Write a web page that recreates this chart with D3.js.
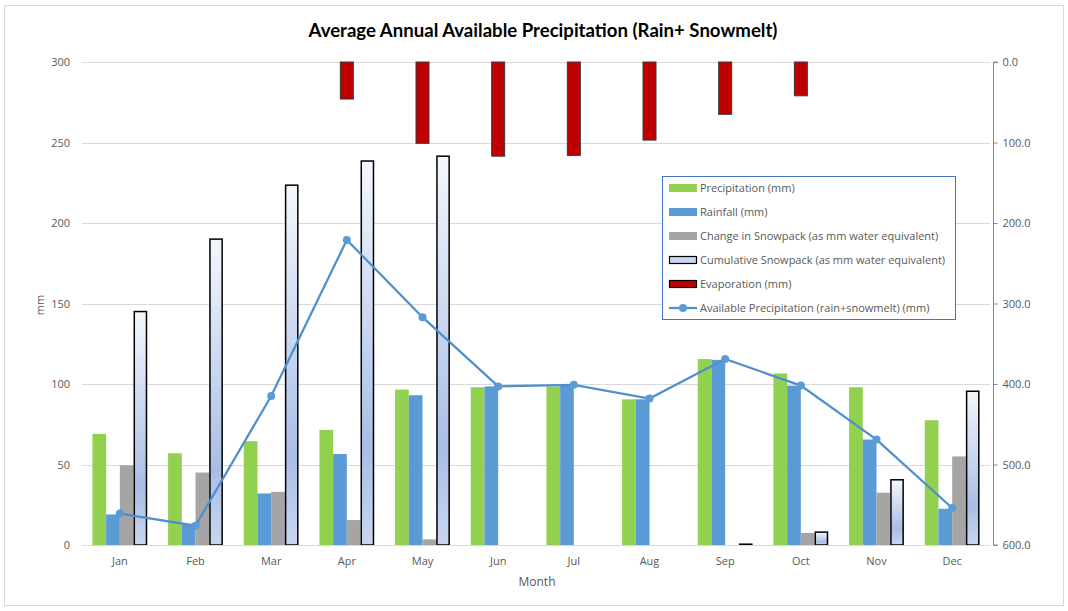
<!DOCTYPE html>
<html><head><meta charset="utf-8">
<script src="https://cdn.jsdelivr.net/npm/d3@7"></script>
<style>body{margin:0;background:#fff}svg{display:block}text{font-family:"Open Sans",Lato,sans-serif}</style>
</head><body><svg id="c" width="1068" height="611"></svg>
<script>
const months = ["Jan","Feb","Mar","Apr","May","Jun","Jul","Aug","Sep","Oct","Nov","Dec"];
const precipitation = [69,57,64.5,71.5,96.5,98,98.5,90.5,115.5,106.5,98,77.5];
const rainfall = [19,12.5,32,56.5,93,98.5,99.5,90.5,115,99,65.5,22.5];
const snowChange = [49.5,45,33,15.5,3.5,0,0,0,0,7.5,32.5,55];
const cumSnow = [145,190,223.5,238.5,241.5,0,0,0,0.5,8,40.5,95.5];
const evaporation = [null,null,null,46,101,117,116,97,65,42,null,null];
const available = [19.5,12,92.5,189.5,141.5,98.5,99.5,91,115.5,99,65.5,23];
const leftTicks = [0,50,100,150,200,250,300];
const rightTicks = [0,100,200,300,400,500,600];

const svg = d3.select("#c");
const L=82, R=990, T=62, B=545;
const x = d3.scaleBand().domain(months).range([L,R]);
const y = d3.scaleLinear().domain([0,300]).range([B,T]);
const y2 = d3.scaleLinear().domain([0,600]).range([T,B]);
const series = ["p","r","s","c"];
const xi = d3.scaleBand().domain(series).range([-27.4,27.4]);
const cx = m => x(m)+x.bandwidth()/2;

// chart border
svg.append("rect").attr("x",4.5).attr("y",5.5).attr("width",1059).attr("height",600).attr("fill","none").attr("stroke","#d9d9d9");

const defs = svg.append("defs");
const g = defs.append("linearGradient").attr("id","snow").attr("x1",0).attr("y1",0).attr("x2",0).attr("y2",1);
g.append("stop").attr("offset","0%").attr("stop-color","#f4f7fd");
g.append("stop").attr("offset","75%").attr("stop-color","#a9bee6");
g.append("stop").attr("offset","100%").attr("stop-color","#c9d6ef");

// gridlines
svg.append("g").selectAll("line").data(leftTicks).join("line")
  .attr("x1",L).attr("x2",R).attr("y1",d=>Math.round(y(d))+0.5).attr("y2",d=>Math.round(y(d))+0.5)
  .attr("stroke","#d9d9d9").attr("stroke-width",1);

// left tick labels
svg.append("g").selectAll("text").data(leftTicks).join("text")
  .attr("x",70).attr("y",d=>y(d)+4).attr("text-anchor","end").attr("font-size",11).attr("fill","#595959").text(d=>d);

// right axis
const ra = svg.append("g").attr("transform",`translate(${993.5},0)`)
  .call(d3.axisRight(y2).tickValues(rightTicks).tickSize(4).tickFormat(d3.format(".1f")));
ra.select(".domain").attr("stroke","#868686").attr("d",`M4,${T}H0V${B}H4`);
ra.selectAll(".tick line").attr("stroke","#868686");
ra.selectAll(".tick text").attr("font-size",11).attr("fill","#595959").attr("x",9).style("font-family",'"Open Sans",Lato,sans-serif');

// month labels
svg.append("g").selectAll("text").data(months).join("text")
  .attr("x",d=>cx(d)).attr("y",565).attr("text-anchor","middle").attr("font-size",11).attr("fill","#595959").text(d=>d);

const bw = xi.bandwidth();
function bars(data, key, fill, stroke, sw){
  svg.append("g").selectAll("rect").data(months).join("rect")
    .attr("x",(m)=>cx(m)+xi(key))
    .attr("width",bw)
    .attr("y",(m,i)=>y(data[i]))
    .attr("height",(m,i)=>B-y(data[i]))
    .attr("fill",fill).attr("stroke",stroke||"none").attr("stroke-width",sw||0);
}
bars(precipitation,"p","#92d050");
bars(rainfall,"r","#5b9bd5");
bars(snowChange,"s","#a5a5a5");
svg.append("g").selectAll("rect").data(months.map((m,i)=>({m,v:cumSnow[i]})).filter(d=>d.v>0)).join("rect")
  .attr("x",d=>cx(d.m)+xi("c")+0.75).attr("width",bw-1.5)
  .attr("y",d=>y(d.v)).attr("height",d=>B-y(d.v))
  .attr("fill","url(#snow)").attr("stroke","#000").attr("stroke-width",1.5);

// evaporation
svg.append("g").selectAll("rect").data(months.map((m,i)=>({m,v:evaporation[i]})).filter(d=>d.v!=null)).join("rect")
  .attr("x",d=>cx(d.m)-6.5).attr("width",13)
  .attr("y",y2(0)).attr("height",d=>y2(d.v)-y2(0))
  .attr("fill","#c00000").attr("stroke","#3a3a3a").attr("stroke-width",1);

// bottom axis line
svg.append("line").attr("x1",L).attr("x2",R).attr("y1",B+0.5).attr("y2",B+0.5).attr("stroke","#d9d9d9");

// line
const line = d3.line().x((d,i)=>cx(months[i])).y(d=>y(d));
svg.append("path").datum(available).attr("d",line).attr("fill","none").attr("stroke","#4e8fcd").attr("stroke-width",2.25);
svg.append("g").selectAll("circle").data(available).join("circle")
  .attr("cx",(d,i)=>cx(months[i])).attr("cy",d=>y(d)).attr("r",4).attr("fill","#5b9bd5");

// title and axis titles
svg.append("text").attr("x",543).attr("y",37).attr("text-anchor","middle").attr("font-size",18.6).attr("font-weight","bold").attr("fill","#000")
  .style("font-family","Lato,sans-serif").text("Average Annual Available Precipitation (Rain+ Snowmelt)");
svg.append("text").attr("transform","translate(44,305) rotate(-90)").attr("text-anchor","middle").attr("font-size",11).attr("fill","#595959").text("mm");
svg.append("text").attr("x",537).attr("y",586).attr("text-anchor","middle").attr("font-size",12).attr("fill","#595959").text("Month");

// legend
const lg = svg.append("g");
lg.append("rect").attr("x",662.5).attr("y",176.5).attr("width",293).attr("height",143).attr("fill","#fff").attr("stroke","#4472c4").attr("stroke-width",1);
const legendItems = [
  {t:"Precipitation (mm)",type:"bar",fill:"#92d050"},
  {t:"Rainfall (mm)",type:"bar",fill:"#5b9bd5"},
  {t:"Change in Snowpack (as mm water equivalent)",type:"bar",fill:"#a5a5a5"},
  {t:"Cumulative Snowpack (as mm water equivalent)",type:"snow"},
  {t:"Evaporation (mm)",type:"evap"},
  {t:"Available Precipitation (rain+snowmelt) (mm)",type:"line"}
];
legendItems.forEach((d,i)=>{
  const yy = 188 + i*24;
  if(d.type==="bar") lg.append("rect").attr("x",669).attr("y",yy-4).attr("width",28).attr("height",8).attr("fill",d.fill);
  if(d.type==="snow") lg.append("rect").attr("x",669.5).attr("y",yy-3.5).attr("width",27).attr("height",7).attr("fill","#c9d6ef").attr("stroke","#000").attr("stroke-width",1.2);
  if(d.type==="evap") lg.append("rect").attr("x",669.5).attr("y",yy-3.5).attr("width",27).attr("height",7).attr("fill","#c00000").attr("stroke","#000").attr("stroke-width",1.2);
  if(d.type==="line"){
    lg.append("line").attr("x1",669).attr("x2",697).attr("y1",yy).attr("y2",yy).attr("stroke","#4e8fcd").attr("stroke-width",2.25);
    lg.append("circle").attr("cx",683).attr("cy",yy).attr("r",4).attr("fill","#5b9bd5");
  }
  lg.append("text").attr("x",700).attr("y",yy+4).attr("font-size",11).attr("fill","#595959").text(d.t);
});
</script></body></html>
